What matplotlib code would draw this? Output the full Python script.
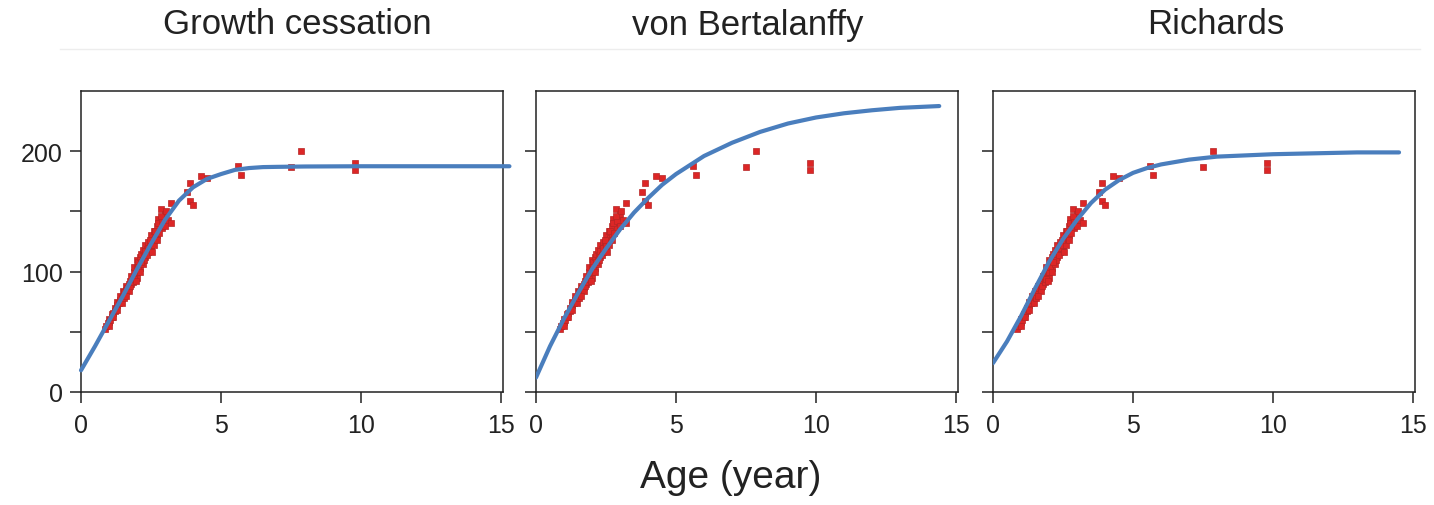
import matplotlib
matplotlib.use("Agg")
import matplotlib.pyplot as plt
from matplotlib.lines import Line2D

plt.rcParams['font.family'] = ['Liberation Sans', 'DejaVu Sans']

# observed fish: age (year) and length
age = [0.85, 0.9, 0.95, 1.0, 1.0, 1.05, 1.1, 1.1, 1.15, 1.2, 1.2, 1.25, 1.3, 1.3,
       1.35, 1.4, 1.4, 1.45, 1.5, 1.5, 1.55, 1.6, 1.6, 1.65, 1.7, 1.7, 1.75, 1.8,
       1.8, 1.85, 1.9, 1.9, 1.95, 2.0, 2.0, 2.0, 2.05, 2.1, 2.1, 2.15, 2.2, 2.2,
       2.25, 2.3, 2.3, 2.35, 2.4, 2.4, 2.45, 2.5, 2.5, 2.55, 2.6, 2.6, 2.65, 2.7,
       2.7, 2.75, 2.8, 2.85, 2.9, 2.95, 3.0, 3.1, 3.2, 3.2, 3.8, 3.9, 3.9, 4.0,
       4.3, 4.5, 5.6, 5.7, 7.5, 7.85, 9.8, 9.8,
       # extra scatter around the dense band
       1.0, 1.15, 1.3, 1.45, 1.55, 1.7, 1.75, 1.85, 1.9, 2.0, 2.05, 2.1, 2.2,
       2.25, 2.3, 2.35, 2.4, 2.5, 2.55, 2.6, 2.65, 2.7, 2.75, 2.8, 2.9, 3.0,
       1.6, 1.95, 2.15, 2.45, 2.85, 3.05]
length = [52, 55, 57, 58, 61, 60, 62, 65, 66, 67, 70, 69, 72, 75,
          74, 76, 80, 78, 79, 84, 83, 85, 88, 86, 90, 87, 92, 96,
          90, 94, 100, 104, 98, 104, 110, 95, 108, 112, 103, 115, 118, 110,
          114, 122, 112, 119, 125, 116, 121, 130, 118, 124, 134, 126, 128, 138,
          130, 144, 140, 152, 136, 145, 148, 143, 157, 140, 166, 174, 159, 155,
          179, 178, 188, 180, 187, 200, 190, 184,
          55, 62, 68, 74, 78, 84, 88, 91, 94, 100, 104, 100, 106,
          110, 117, 114, 120, 122, 116, 122, 134, 126, 140, 132, 142, 138,
          80, 92, 108, 126, 146, 150]

# fitted curves
gc_age = [0.0, 0.5, 1.0, 1.5, 2.0, 2.5, 3.0, 3.5, 4.0, 4.5, 5.0, 5.5, 6.0,
          6.5, 7.0, 8.0, 10.0, 12.0, 15.3]
gc_len = [18, 38, 59, 80, 102, 123, 143, 159, 170, 177, 181, 184.5, 186,
          186.8, 187, 187.3, 187.5, 187.5, 187.5]

vb_age = [0, 0.5, 1, 1.5, 2, 2.5, 3, 3.5, 4, 4.5, 5, 6, 7, 8, 9, 10, 11, 12,
          13, 14.4]
vb_len = [12, 38, 61, 82, 102, 119, 135, 149, 161, 172, 181, 196, 207, 216,
          223, 228, 231.5, 234, 236, 237.5]

rich_age = [0, 0.5, 1, 1.5, 2, 2.5, 3, 3.5, 4, 4.5, 5, 5.5, 6, 7, 8, 9, 10,
            11, 12, 13, 14.5]
rich_len = [24, 42, 63, 86, 108, 127, 143, 157, 168, 176, 182, 186, 189, 193,
            195.5, 196.5, 197.5, 198, 198.5, 199, 199]

titles = ["Growth cessation", "von Bertalanffy", "Richards"]
title_x = [297, 748, 1216]
fits = [(gc_age, gc_len), (vb_age, vb_len), (rich_age, rich_len)]
lefts = [81, 536, 993]

W, H = 1434, 506
fig = plt.figure(figsize=(W / 100, H / 100), dpi=100)

for i in range(3):
    ax = fig.add_axes([lefts[i] / W, 1 - 393 / H, 422 / W, 301 / H])
    ax.plot(age, length, 's', color='#dc2626', markersize=4,
            markeredgecolor='#b52525', markeredgewidth=0.5, zorder=2)
    line_x, line_y = fits[i]
    ax.plot(line_x, line_y, '-', color='#4a7ebd', lw=3, zorder=3,
            solid_capstyle='round', clip_on=(i != 0))
    ax.set_xlim(0, 15.07)
    ax.set_ylim(0, 250)
    ax.set_xticks([0, 5, 10, 15])
    ax.set_yticks([0, 50, 100, 150, 200])
    if i == 0:
        ax.set_yticklabels(['0', '', '100', '', '200'])
    else:
        ax.set_yticklabels([])
    ax.tick_params(direction='out', length=8, width=1.1, labelsize=18,
                   colors='#222222', pad=5)
    ax.tick_params(axis='x', pad=7)
    for s in ax.spines.values():
        s.set_linewidth(1.1)
        s.set_color('#222222')
    fig.text(title_x[i] / W, 1 - 25 / H, titles[i], fontsize=25,
             ha='center', va='center', color='#222222')

# faint strip line under the titles
fig.add_artist(Line2D([60 / W, 1420 / W], [1 - 50 / H, 1 - 50 / H],
                      color='#ededed', lw=1))

fig.text(731 / W, 1 - 478 / H, "Age (year)", fontsize=28,
         ha='center', va='center', color='#222222')

fig.savefig("out.png", dpi=100)
